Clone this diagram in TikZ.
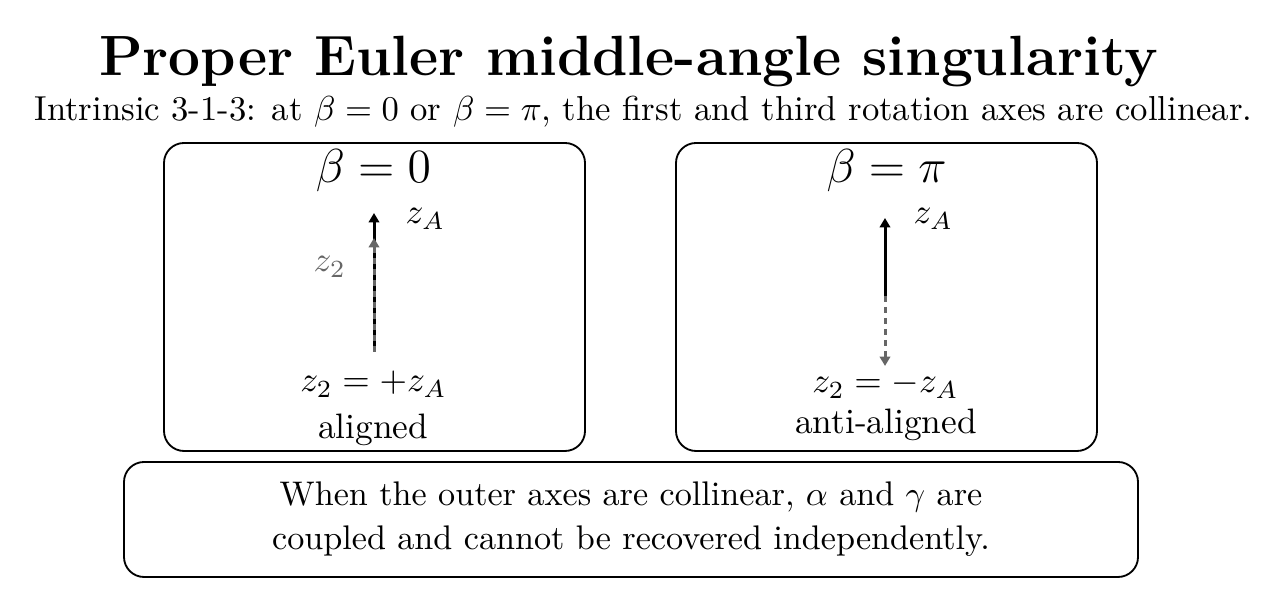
\RequirePackage{fix-cm}
\documentclass[tikz,border=0pt]{standalone}
\usetikzlibrary{arrows.meta}
\begin{document}
\begin{tikzpicture}[x=0.3pt,y=-0.3pt,
  panel/.style={draw,line width=0.55pt,rounded corners=6pt},
  axisA/.style={line width=0.9pt,-{Triangle[length=2.8pt,width=3.1pt]}},
  axisB/.style={line width=0.9pt,black!60,dash pattern=on 1.8pt off 1.5pt,-{Triangle[length=2.8pt,width=3.1pt]}},
  lbl/.style={inner sep=0pt,anchor=base,font=\fontsize{10.6}{12.7}\selectfont},
  head/.style={inner sep=0pt,anchor=base,font=\fontsize{14.3}{17}\selectfont}]
\useasboundingbox (0,0) rectangle (1261,613);
\node[inner sep=0pt,anchor=base,font=\fontsize{17.02}{20}\selectfont\bfseries] (title) at (628.5,76) {Proper Euler middle-angle singularity};
\node[inner sep=0pt,anchor=base,font=\fontsize{10.4}{12.5}\selectfont] (sub) at (643.5,121) {Intrinsic 3-1-3: at $\beta=0$ or $\beta=\pi$, the first and third rotation axes are collinear.};
% left panel
\draw[panel] (164,143) rectangle (585,451);
\node[head] (h1) at (373.5,183) {$\beta=0$};
\coordinate (l0) at (374,352);
\coordinate (lA) at (374,213);
\coordinate (l2) at (374,238);
\draw[axisA] (l0) -- (lA);
\draw[axisB] (l0) -- (l2);
\node[lbl,anchor=base west] (lzA) at (405,224) {$z_A$};
\node[lbl,anchor=base west,text=black!60] (lz2) at (313,272) {$z_2$};
\node[lbl] (leq) at (373.5,392) {$z_2=+z_A$};
\node[lbl] (lal) at (373,439) {aligned};
% right panel
\draw[panel] (676,143) rectangle (1097,451);
\node[head] (h2) at (886.5,183) {$\beta=\pi$};
\coordinate (r0) at (885,296);
\coordinate (rA) at (885,218);
\coordinate (r2) at (885,366);
\draw[axisA] (r0) -- (rA);
\draw[axisB] (r0) -- (r2);
\node[lbl,anchor=base west] (rzA) at (913,224) {$z_A$};
\node[lbl] (req) at (885.5,393) {$z_2=-z_A$};
\node[lbl] (ral) at (886,434) {anti-aligned};
% bottom
\draw[panel] (124,462) rectangle (1138,577);
\node[inner sep=0pt,align=center,font=\fontsize{10.25}{13.2}\selectfont,anchor=center] (note) at (631,519) {When the outer axes are collinear, $\alpha$ and $\gamma$ are\\coupled and cannot be recovered independently.};
\end{tikzpicture}
\end{document}
